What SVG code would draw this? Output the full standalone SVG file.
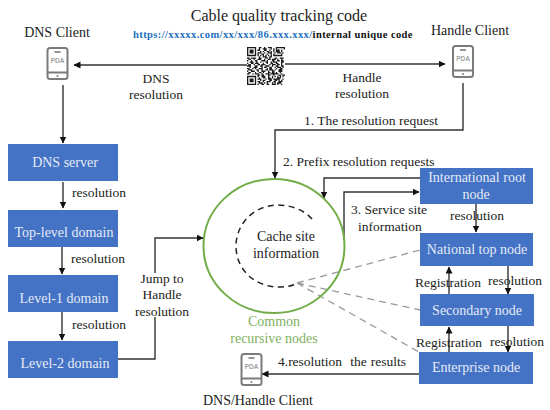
<svg xmlns="http://www.w3.org/2000/svg" width="550" height="410" viewBox="0 0 550 410">
<style>
text{font-family:"Liberation Serif","Times New Roman",serif;font-size:13.5px;fill:#222}
.m{text-anchor:middle}
.w{fill:#e4ebf7;font-size:14px;text-anchor:middle}
.box{fill:#4472c4}
.c{fill:none;stroke:#333;stroke-width:1.4}
.d{fill:none;stroke:#9a9a9a;stroke-width:1.3;stroke-dasharray:7 5}
.ph{fill:none;stroke:#7b7b7b;stroke-width:2}
.pda{font-family:"Liberation Sans",Arial,sans-serif;font-size:6.5px;font-weight:bold;fill:#a0a0a0;text-anchor:middle}
.g{fill:#7fb05f;font-size:14px;text-anchor:middle}
</style>
<defs>
<marker id="a" markerWidth="8" markerHeight="8" refX="6.5" refY="3.5" orient="auto" markerUnits="userSpaceOnUse"><path d="M0 0L7 3.5L0 7z" fill="#111"/></marker>
<g id="phone">
<rect class="ph" x="1" y="1" width="20" height="31" rx="2.5"/>
<path d="M1 25.5H21" stroke="#7b7b7b" stroke-width="2"/>
<path d="M8 5H14" stroke="#7b7b7b" stroke-width="1.6"/>
<circle cx="11" cy="29" r="1" fill="#7b7b7b"/>
</g>
</defs>
<rect width="550" height="410" fill="#fff"/>

<g id="connectors">
<path class="c" d="M247 65H74" marker-end="url(#a)"/>
<path class="c" d="M285 64H445" marker-end="url(#a)"/>
<path class="c" d="M63 85V143" marker-end="url(#a)"/>
<path class="c" d="M463 83V130H275V178" marker-end="url(#a)"/>
<path class="c" d="M420 178H324V198" marker-end="url(#a)"/>
<path class="c" d="M344 240V192H419" marker-end="url(#a)"/>
<path class="c" d="M63 182V208" marker-end="url(#a)"/>
<path class="c" d="M62 247V274" marker-end="url(#a)"/>
<path class="c" d="M62 312V340" marker-end="url(#a)"/>
<path class="c" d="M105 359H155V317M155 273V238H203" marker-end="url(#a)"/>
<path class="c" d="M476 204V232" marker-end="url(#a)"/>
<path class="c" d="M449 294V267" marker-end="url(#a)"/>
<path class="c" d="M508 266V294" marker-end="url(#a)"/>
<path class="c" d="M449 352V327" marker-end="url(#a)"/>
<path class="c" d="M508 326V352" marker-end="url(#a)"/>
<path class="c" d="M419 374H262" marker-end="url(#a)"/>
<path class="d" d="M297 283L420 250M297 283L420 310M297 283L419 352"/>
</g>

<g id="title">
<text class="m" x="279" y="21" style="font-size:16px">Cable quality tracking code</text>
<text x="133" y="38" style="font-size:10.5px;font-weight:bold;letter-spacing:.41px"><tspan fill="#1a6fc0">https://xxxxx.com/xx/xxx/86.xxx.xxx/</tspan><tspan fill="#111">internal unique code</tspan></text>
</g>

<g id="qr">
<path transform="translate(247 47) scale(1.31)" fill="none" stroke="#1a1a1a" stroke-width="1" d="M0 .5h7m2 0h2m2 0h1m2 0h3m3 0h7M0 1.5h1m5 0h1m2 0h1m2 0h3m3 0h1m1 0h1m1 0h1m5 0h1M0 2.5h1m1 0h3m1 0h1m1 0h2m3 0h2m2 0h1m2 0h1m1 0h3m1 0h1M0 3.5h1m1 0h3m1 0h1m3 0h1m1 0h1m2 0h2m1 0h1m1 0h1m1 0h3m1 0h1M0 4.5h1m1 0h3m1 0h1m1 0h3m2 0h1m2 0h3m2 0h1m1 0h3m1 0h1M0 5.5h1m5 0h1m1 0h1m2 0h2m2 0h1m2 0h1m1 0h1m5 0h1M0 6.5h7m1 0h1m1 0h1m1 0h1m1 0h1m1 0h1m1 0h1m1 0h7M9 7.5h1m2 0h3m2 0h2M0 8.5h2m1 0h4m2 0h2m3 0h2m1 0h1m3 0h2m2 0h3M1 9.5h2m2 0h1m2 0h3m2 0h1m2 0h2m1 0h3m1 0h1m2 0h1M0 10.5h1m2 0h1m2 0h2m3 0h3m1 0h1m3 0h2m2 0h2m1 0h2M2 11.5h3m2 0h1m2 0h1m3 0h2m2 0h1m1 0h3m3 0h2M0 12.5h1m2 0h2m1 0h3m3 0h1m2 0h1m2 0h2m2 0h2m2 0h1M1 13.5h2m2 0h1m2 0h2m1 0h3m3 0h1m1 0h3m1 0h2m1 0h1M0 14.5h3m3 0h2m2 0h2m2 0h3m2 0h1m2 0h2m2 0h2M2 15.5h1m2 0h3m3 0h1m1 0h2m2 0h2m2 0h1m1 0h3m1 0h1M0 16.5h2m2 0h1m1 0h1m2 0h3m3 0h1m1 0h2m3 0h1m2 0h2M1 17.5h3m3 0h2m2 0h1m2 0h2m1 0h3m1 0h1m2 0h3M0 18.5h1m2 0h3m2 0h1m2 0h3m2 0h1m2 0h2m3 0h3M1 19.5h2m3 0h1m2 0h2m1 0h1m3 0h2m1 0h2m1 0h1m2 0h1M0 20.5h2m2 0h1m1 0h3m2 0h1m2 0h3m1 0h6m2 0h1M8 21.5h2m1 0h2m3 0h2m2 0h1m3 0h2m1 0h2M0 22.5h7m1 0h1m2 0h3m2 0h1m2 0h1m1 0h1m1 0h1m1 0h1m1 0h1M0 23.5h1m5 0h1m2 0h1m2 0h2m2 0h2m1 0h1m3 0h3M0 24.5h1m1 0h3m1 0h1m1 0h3m3 0h1m1 0h3m1 0h5m2 0h1M0 25.5h1m1 0h3m1 0h1m3 0h1m1 0h2m3 0h2m2 0h2m1 0h1m1 0h1M0 26.5h1m1 0h3m1 0h1m1 0h2m2 0h1m2 0h3m2 0h2m2 0h3M0 27.5h1m5 0h1m2 0h3m1 0h1m1 0h1m3 0h1m1 0h1m1 0h3M0 28.5h7m1 0h1m2 0h2m2 0h2m2 0h3m1 0h1m2 0h1"/>
</g>

<g id="dns-client">
<text class="m" x="57" y="37" style="font-size:14px">DNS Client</text>
<use href="#phone" x="46.500" y="47"/>
<text class="pda" x="57.500" y="63">PDA</text>
</g>
<g id="handle-client">
<text class="m" x="470" y="35" style="font-size:14px">Handle Client</text>
<use href="#phone" x="452" y="45"/>
<text class="pda" x="463" y="61">PDA</text>
</g>
<g id="dns-handle-client">
<use href="#phone" x="240.500" y="353"/>
<text class="pda" x="251.500" y="369">PDA</text>
<text class="m" x="258" y="405" style="font-size:14px">DNS/Handle Client</text>
</g>

<g id="dns-server"><rect class="box" x="8" y="144" width="110" height="37"/><text class="w" x="65" y="167">DNS server</text></g>
<g id="top-level"><rect class="box" x="8" y="210" width="110" height="37"/><text class="w" x="64" y="237">Top-level domain</text></g>
<g id="level-1"><rect class="box" x="8" y="275" width="110" height="37"/><text class="w" x="64" y="303">Level-1 domain</text></g>
<g id="level-2"><rect class="box" x="8" y="341" width="110" height="37"/><text class="w" x="65" y="368">Level-2 domain</text></g>

<g id="common-recursive-nodes">
<ellipse cx="274" cy="246" rx="70.500" ry="67" fill="none" stroke="#70ad47" stroke-width="2"/>
<path d="M312 219C304 210 291 205 278 205C254 205 236 224 236 246C236 270 255 287 279 287C286 287 292 286 298 283" fill="none" stroke="#222" stroke-width="1.500" stroke-dasharray="6 4.500"/>
<text class="m" x="286" y="241" style="font-size:14px">Cache site</text>
<text class="m" x="286" y="258" style="font-size:14px">information</text>
<text class="g" x="274" y="326">Common</text>
<text class="g" x="274" y="343">recursive nodes</text>
</g>

<g id="international-root"><rect class="box" x="420" y="168" width="113" height="36"/><text class="w" x="477" y="182">International root</text><text class="w" x="476" y="199">node</text></g>
<g id="national-top"><rect class="box" x="420" y="233" width="113" height="33"/><text class="w" x="477" y="254">National top node</text></g>
<g id="secondary"><rect class="box" x="420" y="294" width="114" height="32"/><text class="w" x="477" y="315">Secondary node</text></g>
<g id="enterprise"><rect class="box" x="419" y="352" width="114" height="32"/><text class="w" x="476" y="372">Enterprise node</text></g>

<g id="labels">
<text class="m" x="156" y="83">DNS</text>
<text class="m" x="156" y="99">resolution</text>
<text class="m" x="362" y="82">Handle</text>
<text class="m" x="362" y="98">resolution</text>
<text class="m" x="371" y="125">1. The resolution request</text>
<text x="283" y="166">2. Prefix resolution requests</text>
<text x="351" y="214">3. Service site</text>
<text x="358" y="231">information</text>
<text x="450" y="220">resolution</text>
<text x="72" y="197">resolution</text>
<text x="71" y="263">resolution</text>
<text x="72" y="329">resolution</text>
<text class="m" x="162" y="283">Jump to</text>
<text class="m" x="162" y="299">Handle</text>
<text class="m" x="162" y="316">resolution</text>
<text x="415" y="287">Registration</text>
<text x="488" y="285">resolution</text>
<text x="416" y="347">Registration</text>
<text x="490" y="346">resolution</text>
<text x="278" y="366" xml:space="preserve" style="word-spacing:.7px">4.resolution  the results</text>
</g>
</svg>
